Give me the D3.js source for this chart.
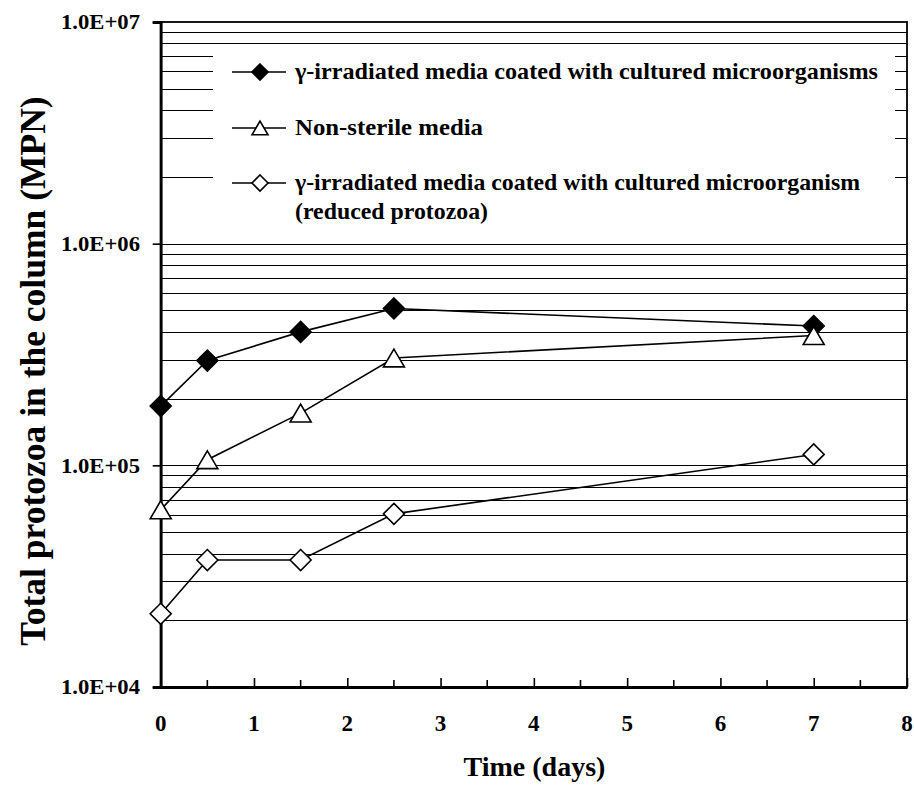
<!DOCTYPE html>
<html><head><meta charset="utf-8">
<script src="https://cdn.jsdelivr.net/npm/d3@7"></script>
<style>body{margin:0;background:#fff}svg{display:block}text{font-family:"Liberation Serif","Times New Roman",serif;font-weight:bold;fill:#000}</style>
</head><body><svg id="c" width="914" height="785"></svg>
<script>
const days = [0, 0.5, 1.5, 2.5, 7];
const irradiatedCoated = [1.85e5, 2.97e5, 4.0e5, 5.1e5, 4.25e5];
const nonSterile = [6.3e4, 1.06e5, 1.72e5, 3.05e5, 3.85e5];
const reducedProtozoa = [2.14e4, 3.74e4, 3.74e4, 6.04e4, 1.12e5];
const xTicks = [0,1,2,3,4,5,6,7,8];
const yTicks = [1e4,1e5,1e6,1e7];
const yTickLabels = ["1.0E+04","1.0E+05","1.0E+06","1.0E+07"];
const legendLabels = ["γ-irradiated media coated with cultured microorganisms","Non-sterile media","γ-irradiated media coated with cultured microorganism","(reduced protozoa)"];

const FONT = "'Liberation Serif','Times New Roman',serif";
const svg = d3.select("#c");
const L=160.7, R=907, T=22, B=687;
const x = d3.scaleLinear().domain([0,8]).range([L,R]);
const y = d3.scaleLog().domain([1e4,1e7]).range([B,T]);

function txt(g){ return g.append("text").style("font-family",FONT).style("font-weight","bold").style("fill","#000"); }

// gridlines at each minor log step
const grid=[];
for(let d=1e4; d<1e7; d*=10) for(let k=1;k<=9;k++){ if(k===1 && d===1e4) continue; grid.push(k*d);}
svg.append("g").selectAll("line").data(grid).join("line")
  .attr("x1",L).attr("x2",R).attr("y1",v=>Math.round(y(v))+0.5).attr("y2",v=>Math.round(y(v))+0.5)
  .attr("stroke","#000").attr("stroke-width",1);

// legend background
svg.append("rect").attr("x",213).attr("y",48).attr("width",682).attr("height",172).attr("fill","#fff");

// frame
svg.append("rect").attr("x",L).attr("y",T).attr("width",R-L).attr("height",B-T).attr("fill","none").attr("stroke","#000").attr("stroke-width",1.8);

// y axis
const gy = svg.append("g").attr("transform",`translate(${L},0)`).call(d3.axisLeft(y).tickValues(yTicks).tickFormat("").tickSize(8));
gy.select(".domain").attr("stroke-width",2.8);
gy.selectAll(".tick line").attr("stroke-width",1.6);
yTicks.forEach((v,i)=>{
  txt(svg).attr("x",140).attr("y",y(v)).attr("dy","0.34em").attr("text-anchor","end").style("font-size","22px")
    .attr("textLength",79).attr("lengthAdjust","spacingAndGlyphs").text(yTickLabels[i]);
});

// x axis (ticks inside)
const xMinor = d3.range(0.5,8,1);
const gx = svg.append("g").attr("transform",`translate(0,${B})`).call(d3.axisBottom(x).tickValues(xTicks).tickFormat("").tickSizeInner(-9).tickSizeOuter(0));
gx.select(".domain").attr("stroke-width",2.8);
gx.selectAll(".tick line").attr("stroke-width",1.6);
svg.append("g").selectAll("line").data(xMinor).join("line")
  .attr("x1",d=>x(d)).attr("x2",d=>x(d)).attr("y1",B).attr("y2",B-7).attr("stroke","#000").attr("stroke-width",1.6);
xTicks.forEach(v=>{
  txt(svg).attr("x",x(v)).attr("y",731).attr("text-anchor","middle").style("font-size","23px").text(String(v));
});

// axis titles
txt(svg).attr("x",534.5).attr("y",776).attr("text-anchor","middle").style("font-size","28px").text("Time (days)");
txt(svg).attr("transform",`translate(45,371) rotate(-90)`).attr("text-anchor","middle").style("font-size","35.5px").text("Total protozoa in the column (MPN)");

// series
const diamond = s => `M0,${-s}L${s},0L0,${s}L${-s},0Z`;
const tri = s => `M0,${-s*0.85}L${s},${s*0.85}L${-s},${s*0.85}Z`;
const series = [
  {vals:irradiatedCoated, path:diamond(10.5), fill:"#000"},
  {vals:nonSterile, path:tri(10.5), fill:"#fff"},
  {vals:reducedProtozoa, path:diamond(10.5), fill:"#fff"}
];
const line = d3.line().x(d=>x(d[0])).y(d=>y(d[1]));
series.forEach(s=>{
  const pts = days.map((d,i)=>[d,s.vals[i]]);
  svg.append("path").attr("d",line(pts)).attr("fill","none").attr("stroke","#000").attr("stroke-width",1.6);
});
series.forEach(s=>{
  const pts = days.map((d,i)=>[d,s.vals[i]]);
  svg.append("g").selectAll("path").data(pts).join("path")
    .attr("transform",d=>`translate(${x(d[0])},${y(d[1])})`).attr("d",s.path)
    .attr("fill",s.fill).attr("stroke","#000").attr("stroke-width",1.6);
});

// legend
const legRows=[72,128,183];
const legPaths=[diamond(8),tri(8),diamond(8)];
const legFill=["#000","#fff","#fff"];
legRows.forEach((ry,i)=>{
  svg.append("line").attr("x1",232).attr("x2",286).attr("y1",ry).attr("y2",ry).attr("stroke","#000").attr("stroke-width",1.6);
  svg.append("path").attr("transform",`translate(260,${ry})`).attr("d",legPaths[i]).attr("fill",legFill[i]).attr("stroke","#000").attr("stroke-width",1.6);
});
const legBase=[79,135,190,219];
const legWidths=[583,188,565,193];
legendLabels.forEach((t,i)=>{
  txt(svg).attr("x",295).attr("y",legBase[i]).style("font-size","23px")
    .attr("textLength",legWidths[i]).attr("lengthAdjust","spacingAndGlyphs").text(t);
});
</script></body></html>
